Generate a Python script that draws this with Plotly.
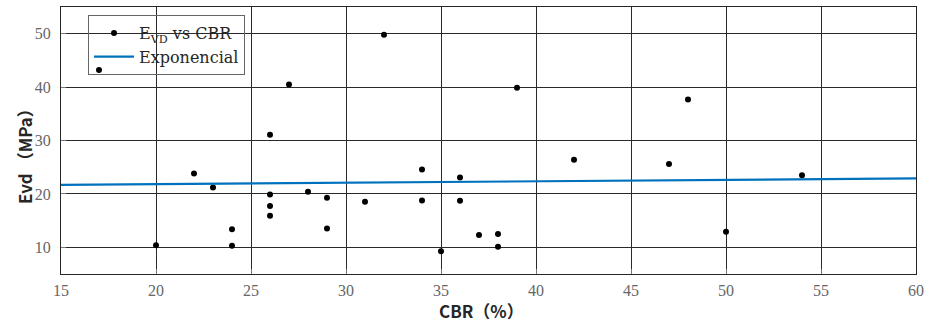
import numpy as np
import plotly.graph_objects as go

cbr = [17, 20, 22, 23, 24, 24, 26, 26, 26, 26, 27, 28, 29, 29, 31, 32, 34, 34, 35,
       36, 36, 37, 38, 38, 39, 42, 47, 48, 50, 54]
evd = [43.2, 10.4, 23.8, 21.2, 13.4, 10.3, 31.1, 19.9, 17.75, 15.9, 40.5, 20.4, 19.3,
       13.5, 18.55, 49.8, 24.55, 18.75, 9.25, 23.05, 18.7, 12.3, 12.5, 10.1, 39.9,
       26.4, 25.6, 37.7, 12.9, 23.5]

# exponential fit y = a*exp(b*x) (parameters)
fit_a = 21.31
fit_b = 0.0011956
fit_x = np.linspace(15, 60, 100)
fit_y = fit_a * np.exp(fit_b * fit_x)

x_ticks = [15, 20, 25, 30, 35, 40, 45, 50, 55, 60]
y_ticks = [10, 20, 30, 40, 50]

fig = go.Figure()
fig.add_trace(go.Scatter(
    x=cbr, y=evd, mode="markers", name="E<sub>VD</sub> vs CBR",
    marker=dict(color="black", size=6)))
fig.add_trace(go.Scatter(
    x=fit_x, y=fit_y, mode="lines", name="Exponencial",
    line=dict(color="#0072BD", width=2.2)))

axis_common = dict(
    showline=True, linecolor="#262626", linewidth=1, mirror=True,
    showgrid=True, gridcolor="#2a2a2a", gridwidth=1,
    zeroline=False, automargin=False,
    ticks="inside", ticklen=5, tickcolor="#777777",
    tickfont=dict(family="Liberation Serif", size=16, color="#666666"),
)

fig.update_xaxes(range=[15, 60], tickvals=x_ticks, ticklabelstandoff=2,
                 ticklabeloverflow="allow", **axis_common)
fig.update_yaxes(range=[5, 55], tickvals=y_ticks, ticklabelstandoff=6, **axis_common)

title_font = dict(family="Noto Sans CJK SC", size=17, color="#262626", weight="bold")
fig.add_annotation(text="Evd （MPa）", xref="paper", yref="paper",
                   x=-0.042, y=0.457, textangle=-90, showarrow=False,
                   xanchor="center", yanchor="middle", font=title_font)
fig.add_annotation(text="CBR（%）", xref="paper", yref="paper",
                   x=0.492, y=-0.138, showarrow=False,
                   xanchor="center", yanchor="middle", font=title_font)

fig.update_layout(
    width=926, height=323,
    margin=dict(l=61, r=10, t=7, b=49, autoexpand=False),
    plot_bgcolor="white", paper_bgcolor="white",
    showlegend=True,
    legend=dict(x=0.0316, y=0.97, xanchor="left", yanchor="top",
                bgcolor="rgba(0,0,0,0)", bordercolor="#666666", borderwidth=1,
                font=dict(family="DejaVu Serif", size=16, color="#262626"),
                tracegroupgap=0, itemwidth=40),
)

fig.write_html("out.html", config={"displayModeBar": False},
               post_script="document.body.style.margin='0px';")
